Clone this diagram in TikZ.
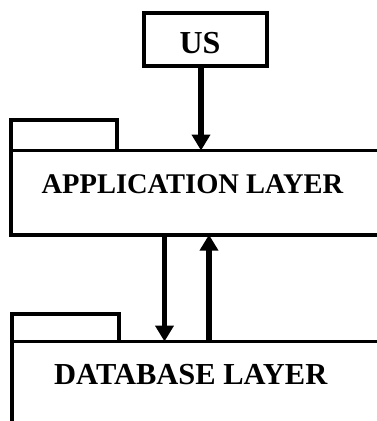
\documentclass[tikz,border=0pt]{standalone}
\usepackage{fontspec}
\setmainfont{Liberation Serif}
\usetikzlibrary{arrows.meta}
\begin{document}
\begin{tikzpicture}[x=1pt,y=-1pt,
  frame/.style={line width=3.8pt,line join=miter},
  flow/.style={line width=5.5pt,-{Triangle[width=18pt,length=16pt]}},
  lbl/.style={font=\bfseries,anchor=base,inner sep=0pt},
  lblsize/.style={font=\bfseries\fontsize{#1}{#1}\selectfont}]
\useasboundingbox (0,0) rectangle (377,421);
\clip (0,0) rectangle (377,421);

% user box
\node[draw,frame,minimum width=123pt,minimum height=53pt,inner sep=0pt] (us) at (205.5,39.5) {};
\node[lbl,lblsize=32] (ustext) at (200,53.3) {US};

% application layer (folder shape, open to the right)
\draw[frame] (11,150.5) -- (11,120) -- (117,120) -- (117,150.5);
\draw[frame] (385,150.5) -- (11,150.5) -- (11,234.7) -- (385,234.7);
\node[lbl,lblsize=28.5] (app) at (192.5,193.3) {APPLICATION LAYER};
\coordinate (appin) at (201,150.5);
\coordinate (appdown) at (164.5,234.7);
\coordinate (appup) at (209,234.7);

% database layer (folder shape, open to the right and below)
\draw[frame] (12,341.5) -- (12,314) -- (118.7,314) -- (118.7,341.5);
\draw[frame] (385,341.5) -- (12,341.5) -- (12,430);
\node[lbl,lblsize=30.5] (db) at (190.8,384) {DATABASE LAYER};
\coordinate (dbin) at (164.5,341.5);
\coordinate (dbout) at (209,341.5);

% connectors
\draw[flow] (appin |- us.south) -- (appin);
\draw[flow] (appdown) -- (dbin);
\draw[flow] (dbout) -- (appup);
\end{tikzpicture}
\end{document}
